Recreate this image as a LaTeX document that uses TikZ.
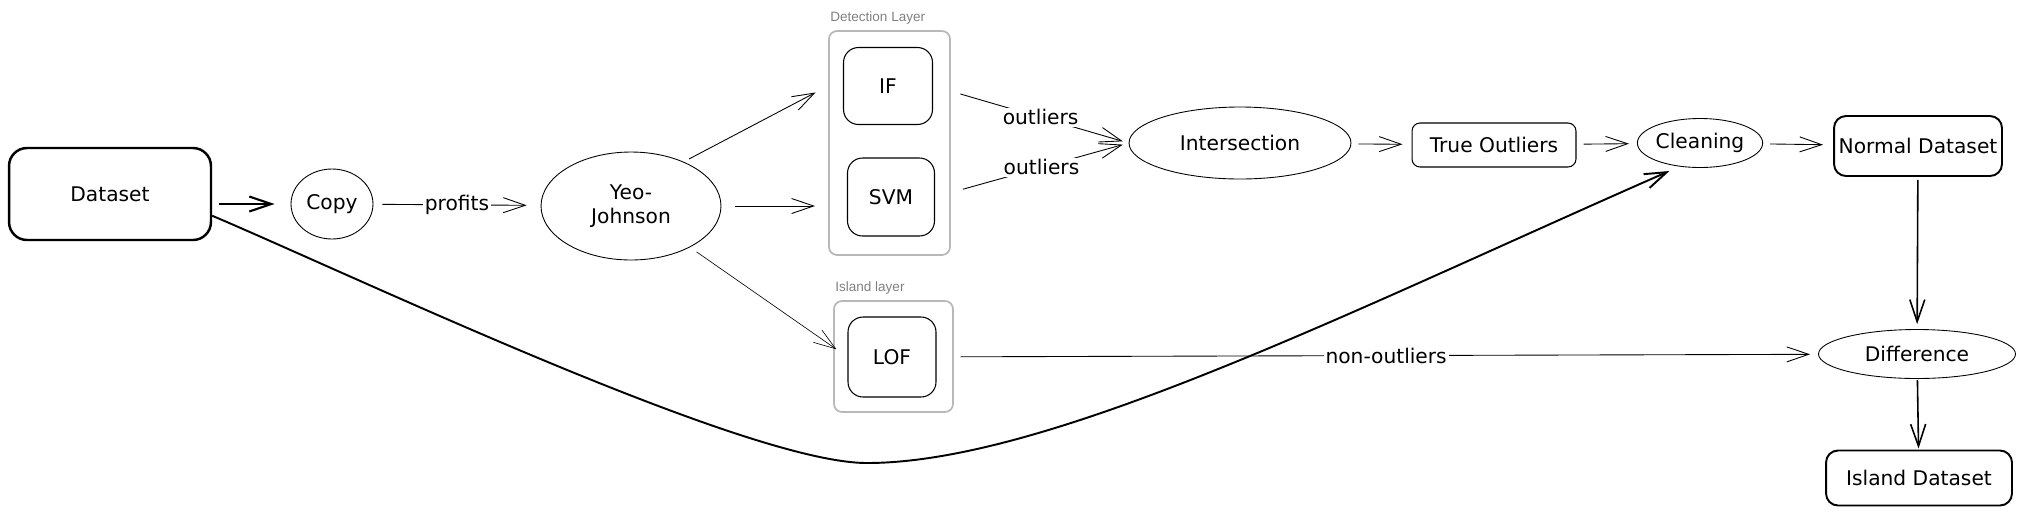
\documentclass[tikz,border=0pt]{standalone}
\usepackage{fontspec}
\setmainfont{DejaVu Sans}
\newfontfamily\layerfont{Liberation Sans}
\usetikzlibrary{shapes,arrows.meta}

\begin{document}
\begin{tikzpicture}[x=0.02cm,y=-0.02cm,
  font=\fontsize{11.5}{13.5}\selectfont,
  >={Straight Barb[length=0.44cm,width=0.3cm]},
  box/.style={draw,rounded corners=0.3cm,inner sep=0pt,line width=0.6pt},
  oval/.style={draw,ellipse,inner sep=0pt,line width=0.5pt},
  layer/.style={draw=black!28,rounded corners=0.16cm,line width=1pt,inner sep=0pt},
  layertext/.style={anchor=west,inner sep=0pt,text=black!50,font=\layerfont\fontsize{7.7}{9}\selectfont},
  lbl/.style={fill=white,inner sep=1pt}]
\useasboundingbox (0,0) rectangle (2025,515);
\node[layer,minimum width=2.42cm,minimum height=4.48cm] (det) at (889.5,143) {};
\node[layertext] (detlbl) at (830,18) {Detection Layer};
\node[layer,minimum width=2.38cm,minimum height=2.22cm] (isl) at (893.5,356.5) {};
\node[layertext] (isllbl) at (835,288) {Island layer};
\node[box,line width=1.4pt,rounded corners=0.36cm,minimum width=4.04cm,minimum height=1.84cm] (data) at (110,194) {Dataset};
\node[oval,minimum width=1.64cm,minimum height=1.4cm] (copy) at (332,204) {Copy};
\node[oval,minimum width=3.6cm,minimum height=2.16cm,align=center] (yeo) at (631,206) {Yeo-\\Johnson};
\node[box,minimum width=1.78cm,minimum height=1.54cm] (if) at (888,86) {IF};
\node[box,minimum width=1.74cm,minimum height=1.56cm] (svm) at (891,197) {SVM};
\node[box,minimum width=1.76cm,minimum height=1.6cm] (lof) at (892,357) {LOF};
\node[oval,minimum width=4.44cm,minimum height=1.44cm] (inter) at (1240,143) {Intersection};
\node[box,rounded corners=0.16cm,minimum width=3.28cm,minimum height=0.88cm] (true) at (1494,145) {True Outliers};
\node[oval,minimum width=2.48cm,minimum height=0.98cm] (clean) at (1700,143) {Cleaning};
\node[box,line width=1.1pt,rounded corners=0.24cm,minimum width=3.36cm,minimum height=1.2cm] (normal) at (1918,146) {Normal Dataset};
\node[oval,minimum width=3.94cm,minimum height=0.98cm] (diff) at (1917,354) {Difference};
\node[box,line width=1.1pt,rounded corners=0.24cm,minimum width=3.72cm,minimum height=1.1cm] (island) at (1919,478) {Island Dataset};
\draw[->,line width=1.2pt,shorten <=0.14cm,shorten >=0.32cm] (data.east |- copy) -- (copy);
\draw[line width=0.5pt] (copy) edge[->,shorten <=0.18cm,shorten >=0.28cm] node[lbl]{profits} (yeo)
(yeo.40) edge[->,shorten <=0.12cm,shorten >=0.62cm] (if.170)
(yeo) edge[->,shorten <=0.28cm,shorten >=0.64cm] (yeo -| svm.west)
(yeo.-35) edge[->,line width=0.35pt,shorten <=0.16cm,shorten >=0.27cm] (lof.west)
(if.east) edge[->,shorten <=0.57cm,shorten >=0.12cm] node[lbl,pos=0.55]{outliers} (inter.west)
(svm.east) edge[->,shorten <=0.58cm,shorten >=0.12cm] node[lbl,pos=0.55]{outliers} (inter.west)
(inter) edge[->,shorten <=0.14cm,shorten >=0.18cm] (true)
(true) edge[->,shorten <=0.14cm,shorten >=0.16cm] (clean)
(clean) edge[->,shorten <=0.14cm,shorten >=0.2cm] (normal)
(lof) edge[->,shorten <=0.48cm,shorten >=0.16cm] node[lbl,pos=0.51]{non-outliers} (diff);
\draw[->,line width=0.9pt,shorten <=0.06cm,shorten >=0.1cm] (normal) -- (diff);
\draw[->,line width=0.9pt,shorten <=0.02cm,shorten >=0.02cm] (diff) -- (island);
\draw[->,line width=1.1pt,shorten >=0.22cm] (data.-12) .. controls (361,279) and (747,463) .. (867,463)
.. controls (1050,463) and (1357,308) .. (clean.229);
\end{tikzpicture}
\end{document}
